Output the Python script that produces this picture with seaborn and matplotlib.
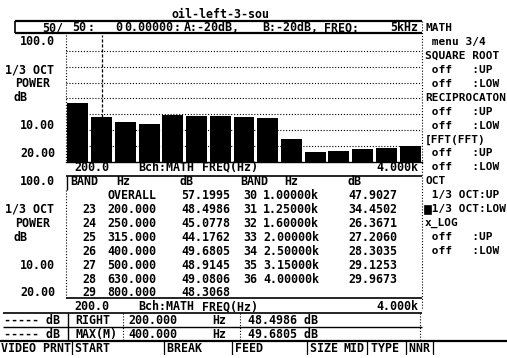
import numpy as np
import pandas as pd
import matplotlib
matplotlib.use("Agg")
import matplotlib.pyplot as plt
from matplotlib.patches import Rectangle
import seaborn as sns

# ---- measurement data: 1/3-octave power spectrum ----
title = "oil-left-3-sou"
band_numbers = [23, 24, 25, 26, 27, 28, 29, 30, 31, 32, 33, 34, 35, 36]
band_freqs = ["200.000", "250.000", "315.000", "400.000", "500.000", "630.000",
              "800.000", "1.00000k", "1.25000k", "1.60000k", "2.00000k",
              "2.50000k", "3.15000k", "4.00000k"]
band_levels = [48.4986, 45.0778, 44.1762, 49.6805, 48.9145, 49.0806, 48.3068,
               47.9027, 34.4502, 26.3671, 27.2060, 28.3035, 29.1253, 29.9673]
overall_level = 57.1995
scale_top = 100.0
scale_bottom = 20.0
axis_start = "200.0"
axis_end = "4.000k"
cursor_index = 0          # RIGHT cursor on band 23 (200 Hz)
max_index = 3             # MAX(M) on band 26 (400 Hz)

menu_items = ["MATH", " menu 3/4", "SQUARE ROOT", " off   :UP", " off   :LOW",
              "RECIPROCATON", " off   :UP", " off   :LOW", "[FFT(FFT)",
              " off   :UP", " off   :LOW", "OCT", " 1/3 OCT:UP", " 1/3 OCT:LOW",
              "x_LOG", " off   :UP", " off   :LOW"]
soft_keys = ["VIDEO PRNT", "|START", "|BREAK", "|FEED", "|SIZE", "MID|TYPE", "|NNR|"]

sns.set_theme(style="white")
plt.rcParams["font.family"] = ["DejaVu Sans Mono"]

W, H = 507, 358
fig = plt.figure(figsize=(W / 100, H / 100), dpi=100)
fig.patch.set_facecolor("white")

screen = fig.add_axes([0, 0, 1, 1])
screen.set_xlim(0, W)
screen.set_ylim(H, 0)
screen.axis("off")

FS = 8.4
DOT = (0, (1, 1.6))


def row(r):
    return 14 + 13.95 * r


def put(x, r, s, ha="left", fs=FS, **kw):
    screen.text(x, row(r), s, ha=ha, va="center", fontsize=fs,
                fontweight="bold", color="black", **kw)


def hline(y, x0, x1, lw=1.0, ls="-"):
    screen.plot([x0, x1], [y, y], color="black", lw=lw, ls=ls,
                solid_capstyle="butt")


def vline(x, y0, y1, lw=1.0, ls="-"):
    screen.plot([x, x], [y0, y1], color="black", lw=lw, ls=ls,
                solid_capstyle="butt")


# ---- bar graph of band levels ----
px_left, px_right, px_top, px_bottom = 66, 422, 35, 162
axb = fig.add_axes([px_left / W, 1 - px_bottom / H,
                    (px_right - px_left) / W, (px_bottom - px_top) / H])
bars = pd.DataFrame({"band": ["OVERALL"] + band_freqs,
                     "level": [overall_level] + band_levels})
sns.barplot(data=bars, x="band", y="level", color="black", saturation=1,
            width=0.88, edgecolor="black", linewidth=0, ax=axb, zorder=3)
axb.set_ylim(scale_bottom, scale_top)
axb.set_xlim(-0.5, len(bars) - 0.5)
axb.set_yticks(np.arange(scale_bottom + 10, scale_top, 10))
axb.grid(axis="y", color="black", linestyle=DOT, linewidth=0.8)
axb.set_axisbelow(True)
axb.axvline(cursor_index + 1, ymin=0, ymax=1, color="black",
            linestyle=(0, (2.5, 1.5)), linewidth=0.9, zorder=2)
axb.tick_params(left=False, labelleft=False, bottom=False, labelbottom=False)
axb.set_xlabel("")
axb.set_ylabel("")
for side in ["top", "left", "right"]:
    axb.spines[side].set_visible(False)
axb.spines["bottom"].set_color("black")
axb.spines["bottom"].set_linewidth(1.0)
axb.patch.set_alpha(0)

# ---- title and header line ----
put(220, 0, title, ha="center")
hline(21, 15, 422, lw=1.6)
hline(33, 15, 422, lw=1.6)
vline(15, 21, 33, lw=1.2)
put(42, 1, "50/")
put(72, 1, "50")
put(87, 1, ":")
put(115, 1, "0")
put(124, 1, "0.00000")
put(174, 1, ":")
put(184, 1, "A:-20dB,")
put(262, 1, "B:-20dB,")
put(324, 1, "FREQ:")
put(418, 1, "5kHz", ha="right")

# ---- right-hand menu ----
for i, item in enumerate(menu_items):
    put(425, 1 + i, item, fs=8.0)
screen.add_patch(Rectangle((424, row(14) - 4.5), 7, 9, facecolor="black",
                           edgecolor="black", lw=0.5))
vline(422, 21, 310, lw=0.8, ls=DOT)

# ---- y-scale labels (graph and table panes) ----
for base in (0, 10):
    put(20, 2 + base, f"{scale_top:.1f}")
    put(5, 4 + base, "1/3 OCT")
    put(15, 5 + base, "POWER")
    put(14, 6 + base, "dB")
    put(20, 8 + base, "10.00")
    put(20, 10 + base, f"{scale_bottom:.2f}")

vline(px_left, px_top, px_bottom, lw=0.8, ls=DOT)

# ---- frequency axis rows ----
for r in (11, 21):
    put(74, r, axis_start)
    put(138, r, "Bch:MATH")
    put(202, r, "FREQ(Hz)")
    put(418, r, axis_end, ha="right")

# ---- band table ----
hline(176, 66, 422, lw=1.2)
vline(67, 176, 190, lw=1.0)
vline(66, 190, 298, lw=0.8, ls=DOT)
hline(298, 66, 422, lw=1.2)
put(70, 12, "BAND")
put(116, 12, "Hz")
put(180, 12, "dB")
put(240, 12, "BAND")
put(284, 12, "Hz")
put(348, 12, "dB")
put(107, 13, "OVERALL")
put(230, 13, f"{overall_level:.4f}", ha="right")
for k in range(7):
    put(96, 14 + k, str(band_numbers[k]), ha="right")
    put(107, 14 + k, band_freqs[k])
    put(230, 14 + k, f"{band_levels[k]:.4f}", ha="right")
for k in range(7, 14):
    put(257, 6 + k, str(band_numbers[k]), ha="right")
    put(263, 6 + k, band_freqs[k])
    put(397, 6 + k, f"{band_levels[k]:.4f}", ha="right")

# ---- cursor readouts ----
hline(313, 3, 422, lw=1.2)
hline(327, 3, 422, lw=1.0)
hline(341, 0, W, lw=1.6)
vline(68, 313, 341, lw=1.0)
vline(123, 313, 341, lw=0.8, ls=DOT)
vline(240, 313, 341, lw=0.8, ls=DOT)
vline(420, 313, 341, lw=0.8, ls=DOT)
readouts = [("RIGHT", cursor_index), ("MAX(M)", max_index)]
for j, (name, idx) in enumerate(readouts):
    r = 22 + j
    put(4, r, "----- dB")
    put(75, r, name)
    put(128, r, band_freqs[idx])
    put(212, r, "Hz")
    put(248, r, f"{band_levels[idx]:.4f} dB")

# ---- soft-key row ----
key_x = [1, 68, 160, 228, 303, 344, 402]
for x, key in zip(key_x, soft_keys):
    put(x, 24, key)

fig.savefig("out.png", dpi=100, facecolor="white")
